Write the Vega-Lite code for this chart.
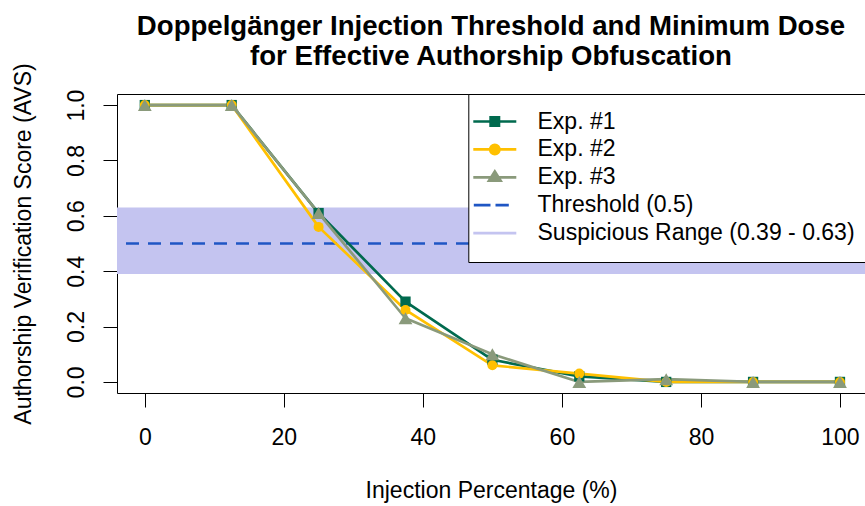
{
  "$schema": "https://vega.github.io/schema/vega-lite/v6.json",
  "width": 748,
  "height": 299,
  "autosize": {"type": "none"},
  "padding": {"left": 117, "top": 94, "right": 0, "bottom": 113},
  "background": "white",
  "config": {
    "font": "Liberation Sans",
    "view": {"stroke": "black", "strokeWidth": 1},
    "axis": {
      "domain": false,
      "grid": false,
      "ticks": true,
      "tickColor": "black",
      "tickSize": 14,
      "tickWidth": 1,
      "labelFont": "Liberation Sans",
      "labelFontSize": 23,
      "labelColor": "black",
      "labelFlush": false,
      "labelOverlap": false,
      "titleFont": "Liberation Sans",
      "titleFontSize": 23,
      "titleFontWeight": "normal",
      "titleColor": "black"
    }
  },
  "title": {
    "text": ["Doppelgänger Injection Threshold and Minimum Dose", "for Effective Authorship Obfuscation"],
    "font": "Liberation Sans",
    "fontSize": 27.6,
    "fontWeight": "bold",
    "color": "black",
    "anchor": "middle",
    "frame": "group",
    "offset": -8,
    "lineHeight": 30
  },
  "datasets": {
    "scores": [
      {"pct": 0, "avs": 1.0, "series": "Exp. #1"},
      {"pct": 12.5, "avs": 1.0, "series": "Exp. #1"},
      {"pct": 25, "avs": 0.61, "series": "Exp. #1"},
      {"pct": 37.5, "avs": 0.29, "series": "Exp. #1"},
      {"pct": 50, "avs": 0.08, "series": "Exp. #1"},
      {"pct": 62.5, "avs": 0.02, "series": "Exp. #1"},
      {"pct": 75, "avs": 0.0, "series": "Exp. #1"},
      {"pct": 87.5, "avs": 0.0, "series": "Exp. #1"},
      {"pct": 100, "avs": 0.0, "series": "Exp. #1"},
      {"pct": 0, "avs": 1.0, "series": "Exp. #2"},
      {"pct": 12.5, "avs": 1.0, "series": "Exp. #2"},
      {"pct": 25, "avs": 0.56, "series": "Exp. #2"},
      {"pct": 37.5, "avs": 0.26, "series": "Exp. #2"},
      {"pct": 50, "avs": 0.06, "series": "Exp. #2"},
      {"pct": 62.5, "avs": 0.03, "series": "Exp. #2"},
      {"pct": 75, "avs": 0.0, "series": "Exp. #2"},
      {"pct": 87.5, "avs": 0.0, "series": "Exp. #2"},
      {"pct": 100, "avs": 0.0, "series": "Exp. #2"},
      {"pct": 0, "avs": 1.0, "series": "Exp. #3"},
      {"pct": 12.5, "avs": 1.0, "series": "Exp. #3"},
      {"pct": 25, "avs": 0.61, "series": "Exp. #3"},
      {"pct": 37.5, "avs": 0.23, "series": "Exp. #3"},
      {"pct": 50, "avs": 0.10, "series": "Exp. #3"},
      {"pct": 62.5, "avs": 0.0, "series": "Exp. #3"},
      {"pct": 75, "avs": 0.01, "series": "Exp. #3"},
      {"pct": 87.5, "avs": 0.0, "series": "Exp. #3"},
      {"pct": 100, "avs": 0.0, "series": "Exp. #3"}
    ],
    "band": [
      {"lo": 0.39, "hi": 0.63, "series": "Suspicious Range (0.39 - 0.63)"}
    ],
    "threshold": [
      {"avs": 0.5, "series": "Threshold (0.5)"}
    ]
  },
  "layer": [
    {
      "data": {"name": "band"},
      "mark": {"type": "rect"},
      "encoding": {
        "y": {
          "field": "lo", "type": "quantitative",
          "scale": {"domain": [-0.04, 1.04], "nice": false, "zero": false},
          "axis": {"values": [0, 0.2, 0.4, 0.6, 0.8, 1.0], "format": ".1f", "labelAngle": -90, "labelAlign": "center", "labelBaseline": "bottom", "labelPadding": 15, "title": "Authorship Verification Score (AVS)", "titlePadding": 30}
        },
        "y2": {"field": "hi"},
        "color": {
          "field": "series", "type": "nominal",
          "scale": {
            "domain": ["Exp. #1", "Exp. #2", "Exp. #3", "Threshold (0.5)", "Suspicious Range (0.39 - 0.63)"],
            "range": ["#006A4E", "#FFC000", "#8A9A7B", "#1F56C4", "#C4C4F0"]
          },
          "legend": {
            "orient": "none",
            "legendX": 351.3,
            "legendY": 0,
            "title": null,
            "padding": 16,
            "strokeColor": "black",
            "fillColor": "white",
            "labelFont": "Liberation Sans",
            "labelFontSize": 23,
            "labelColor": "black",
            "labelLimit": 0,
            "symbolSize": 100,
            "symbolStrokeWidth": 2.7,
            "symbolOffset": -1,
            "labelOffset": 31.2,
            "rowPadding": 3.9,
            "encode": {
              "symbols": {
                "update": {
                  "shape": {"signal": "datum.value === 'Exp. #1' ? 'M-4.3,0H4.3M-0.83,-0.83H0.83V0.83H-0.83Z' : datum.value === 'Exp. #2' ? 'M-4.3,0H4.3M-0.93,0A0.93,0.93,0,1,1,0.93,0A0.93,0.93,0,1,1,-0.93,0Z' : datum.value === 'Exp. #3' ? 'M-4.3,0H4.3M0,-1.15L1.15,0.65H-1.15Z' : datum.value === 'Threshold (0.5)' ? 'M-4.2,0H-0.86M0.14,0H2.8' : 'M-4.3,0H4.3'"},
                  "fill": {"signal": "scale('color', datum.value)"},
                  "stroke": {"signal": "scale('color', datum.value)"}
                }
              }
            }
          }
        }
      }
    },
    {
      "data": {"name": "threshold"},
      "mark": {"type": "rule", "strokeDash": [13, 9], "strokeWidth": 2.7},
      "encoding": {
        "y": {"field": "avs", "type": "quantitative", "title": "Authorship Verification Score (AVS)"},
        "color": {"field": "series", "type": "nominal"}
      }
    },
    {
      "data": {"name": "scores"},
      "mark": {"type": "line", "strokeWidth": 2.7, "strokeJoin": "round"},
      "encoding": {
        "x": {
          "field": "pct", "type": "quantitative",
          "scale": {"domain": [-4, 103.6], "nice": false, "zero": false},
          "axis": {"values": [0, 20, 40, 60, 80, 100], "labelPadding": 19, "title": "Injection Percentage (%)", "titlePadding": 30}
        },
        "y": {"field": "avs", "type": "quantitative", "title": "Authorship Verification Score (AVS)"},
        "color": {"field": "series", "type": "nominal"},
        "order": {"field": "pct", "type": "quantitative"}
      }
    },
    {
      "data": {"name": "scores"},
      "transform": [{"filter": "datum.series === 'Exp. #1'"}],
      "mark": {"type": "point", "shape": "square", "filled": true, "opacity": 1, "size": 106, "strokeWidth": 0},
      "encoding": {
        "x": {"field": "pct", "type": "quantitative", "title": "Injection Percentage (%)"},
        "y": {"field": "avs", "type": "quantitative", "title": "Authorship Verification Score (AVS)"},
        "color": {"field": "series", "type": "nominal"}
      }
    },
    {
      "data": {"name": "scores"},
      "transform": [{"filter": "datum.series === 'Exp. #2'"}],
      "mark": {"type": "point", "shape": "circle", "filled": true, "opacity": 1, "size": 100, "strokeWidth": 0},
      "encoding": {
        "x": {"field": "pct", "type": "quantitative", "title": "Injection Percentage (%)"},
        "y": {"field": "avs", "type": "quantitative", "title": "Authorship Verification Score (AVS)"},
        "color": {"field": "series", "type": "nominal"}
      }
    },
    {
      "data": {"name": "scores"},
      "transform": [{"filter": "datum.series === 'Exp. #3'"}],
      "mark": {"type": "point", "shape": "triangle-up", "filled": true, "opacity": 1, "size": 190, "strokeWidth": 0},
      "encoding": {
        "x": {"field": "pct", "type": "quantitative", "title": "Injection Percentage (%)"},
        "y": {"field": "avs", "type": "quantitative", "title": "Authorship Verification Score (AVS)"},
        "color": {"field": "series", "type": "nominal"}
      }
    }
  ]
}
